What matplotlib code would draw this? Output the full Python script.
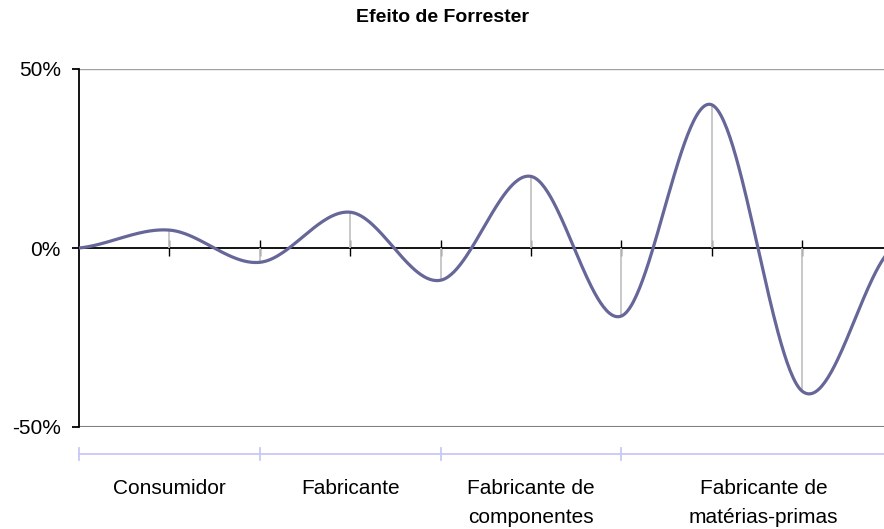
import numpy as np
import matplotlib
matplotlib.use('Agg')
import matplotlib.pyplot as plt
from matplotlib.transforms import blended_transform_factory
from matplotlib.ticker import FuncFormatter

plt.rcParams['font.family'] = ['Liberation Sans', 'DejaVu Sans']

# variação da procura ao longo da cadeia (fração)
valores = [0.0, 0.05, -0.04, 0.10, -0.09, 0.20, -0.19, 0.40, -0.40, 0.0]
categorias = ['Consumidor', 'Fabricante', 'Fabricante de\ncomponentes',
              'Fabricante de\nmatérias-primas']
limites_grupos = [0, 2, 4, 6]
centros_grupos = [1, 3, 5, 7.57]
titulo = 'Efeito de Forrester'

cor_linha = '#666699'


def suavizar(y, n=60):
    # curva suavizada ao estilo Excel (Catmull-Rom)
    y = np.asarray(y, dtype=float)
    k = len(y)
    m = np.zeros(k)
    m[0] = (y[1] - y[0]) / 2
    m[-1] = (y[-1] - y[-2]) / 2
    m[1:-1] = (y[2:] - y[:-2]) / 2
    xs, ys = [], []
    for i in range(k - 1):
        t = np.linspace(0, 1, n, endpoint=(i == k - 2))
        h00 = 2 * t**3 - 3 * t**2 + 1
        h10 = t**3 - 2 * t**2 + t
        h01 = -2 * t**3 + 3 * t**2
        h11 = t**3 - t**2
        xs.append(i + t)
        ys.append(h00 * y[i] + h10 * m[i] + h01 * y[i + 1] + h11 * m[i + 1])
    return np.concatenate(xs), np.concatenate(ys)


fig = plt.figure(figsize=(8.84, 5.29), dpi=100)
ax = fig.add_axes([79 / 884, 1 - 427 / 529, 1 - 79 / 884, (427 - 69) / 529])

x = np.arange(len(valores))
xs, ys = suavizar(valores)

ax.axhline(0.5, color='#a0a0a0', lw=1, zorder=1)
ax.axhline(-0.5, color='#808080', lw=1.5, zorder=1)

# linhas de projeção
ax.vlines(x[1:], 0, valores[1:], color='#c4c4c4', lw=1.3, zorder=3)
ax.plot(xs, ys, color=cor_linha, lw=2.3, zorder=4, solid_capstyle='round')

for s in ['top', 'right']:
    ax.spines[s].set_visible(False)
ax.spines['bottom'].set_position(('data', 0))
ax.spines['bottom'].set_linewidth(1.3)
ax.spines['left'].set_linewidth(1.3)

ax.set_xticks(x[1:-1])
ax.set_xticklabels([])
ax.tick_params(axis='x', direction='inout', length=11, width=1.0)
ax.set_yticks([-0.5, 0, 0.5])
ax.yaxis.set_major_formatter(FuncFormatter(lambda v, p: f'{v * 100:.0f}%'))
ax.tick_params(axis='y', direction='out', length=5, width=1.3, labelsize=15, pad=8)

ax.set_xlim(0, (884 - 79) / 90.4)
ax.set_ylim(-0.5, 0.5)

fig.text(0.5, 1 - 18 / 529, titulo, ha='center', va='center',
         fontsize=14, fontweight='bold')

# eixo das categorias (grupos)
tr = blended_transform_factory(ax.transData, fig.transFigure)
y_eixo = 1 - 454 / 529
ax.plot([0, ax.get_xlim()[1]], [y_eixo, y_eixo], color='#c8c8f4', lw=1.3,
        transform=tr, clip_on=False)
for b in limites_grupos:
    ax.plot([b, b], [y_eixo - 6 / 529, y_eixo + 6 / 529], color='#c8c8f4',
            lw=1.3, transform=tr, clip_on=False)
for c, nome in zip(centros_grupos, categorias):
    ax.text(c, 1 - 479 / 529, nome, transform=tr, ha='center', va='top',
            fontsize=15, linespacing=1.65)

fig.savefig('out.png', dpi=100)
